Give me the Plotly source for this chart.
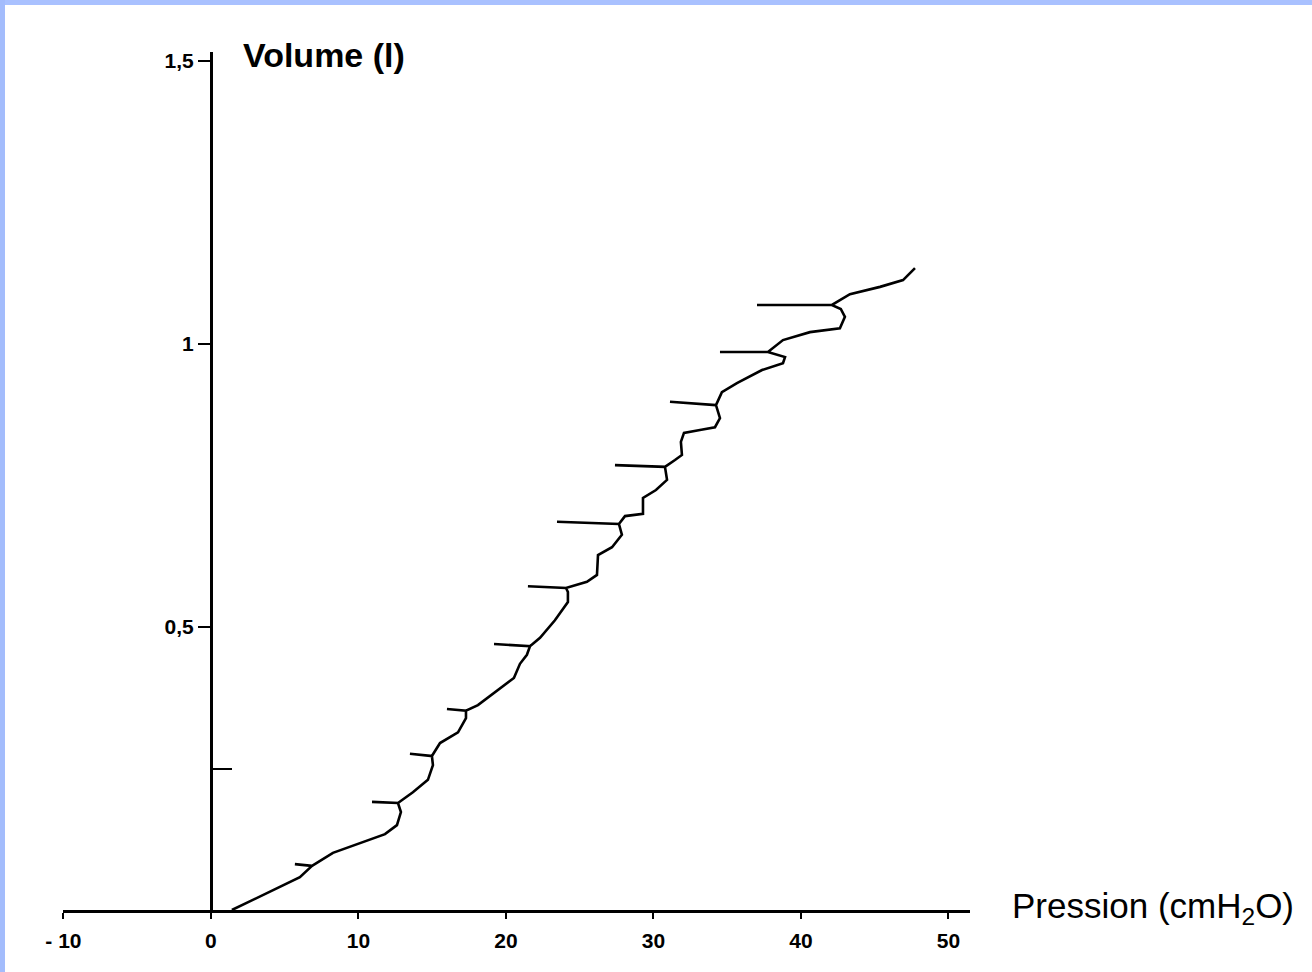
import plotly.graph_objects as go

# Pressure-volume curve (pressure in cmH2O, volume in l)
pressure = [1.42, 4.0, 6.03, 6.85, 5.69, 6.85, 8.27, 10.1, 11.8, 12.61, 12.88, 12.68,
            10.92, 12.68, 13.69, 14.71, 15.05, 14.98, 13.49, 14.98, 15.53, 16.75,
            17.29, 17.29, 16.0, 17.29, 18.1, 19.46, 20.54, 20.95, 21.42, 21.63,
            19.19, 21.63, 22.31, 23.32, 24.2, 24.2, 24.07, 21.49, 24.07, 25.49,
            26.17, 26.24, 27.19, 27.86, 27.66, 23.46, 27.66, 28.07, 29.29, 29.29,
            30.17, 30.92, 30.78, 27.39, 30.78, 31.46, 31.93, 31.86, 32.07, 33.15,
            34.17, 34.51, 34.24, 31.12, 34.24, 34.64, 35.66, 37.36, 38.78, 38.92,
            37.76, 34.51, 37.76, 38.78, 40.61, 42.64, 42.98, 42.7, 42.1, 37.02,
            42.1, 43.32, 45.36, 46.92, 47.73]
volume = [0.0, 0.032, 0.058, 0.078, 0.081, 0.078, 0.101, 0.118, 0.134, 0.150, 0.173, 0.189,
          0.191, 0.189, 0.208, 0.230, 0.256, 0.272, 0.276, 0.272, 0.295, 0.314,
          0.339, 0.352, 0.355, 0.352, 0.362, 0.389, 0.410, 0.435, 0.451, 0.466,
          0.470, 0.466, 0.481, 0.512, 0.544, 0.562, 0.569, 0.572, 0.569, 0.580,
          0.592, 0.627, 0.641, 0.663, 0.682, 0.686, 0.682, 0.696, 0.700, 0.728,
          0.742, 0.760, 0.783, 0.786, 0.783, 0.795, 0.804, 0.827, 0.843, 0.848,
          0.853, 0.869, 0.892, 0.898, 0.892, 0.915, 0.931, 0.954, 0.966, 0.977,
          0.986, 0.986, 0.986, 1.007, 1.021, 1.028, 1.048, 1.062, 1.069, 1.069,
          1.069, 1.088, 1.101, 1.113, 1.134]

x_ticks = [-10, 0, 10, 20, 30, 40, 50]
x_tick_labels = ["- 10", "0", "10", "20", "30", "40", "50"]
y_ticks = [0.5, 1, 1.5]
y_tick_labels = ["0,5", "1", "1,5"]
y_minor_ticks = [0.25]

x_range = [-10.03, 51.46]
y_range = [0, 1.516]

W, H = 1312, 972
ML, MR, MT, MB = 63, 342, 52, 62
PW, PH = W - ML - MR, H - MT - MB


def px_x(p):
    return (p - ML) / PW


def px_y(p):
    return (H - MB - p) / PH


fig = go.Figure()
fig.add_trace(go.Scatter(x=pressure, y=volume, mode="lines",
                         line=dict(color="black", width=2.6),
                         hoverinfo="skip", showlegend=False))

y_axis_pos = (0 - x_range[0]) / (x_range[1] - x_range[0])
tick_font = dict(size=21, family="Liberation Sans, Arial", weight="bold", color="black")

fig.update_layout(
    width=W, height=H, autosize=False,
    margin=dict(l=ML, r=MR, t=MT, b=MB, pad=0),
    paper_bgcolor="white", plot_bgcolor="white",
    font=dict(family="Liberation Sans, Arial, sans-serif", color="black"),
    xaxis=dict(range=x_range, showgrid=False, zeroline=False,
               showline=True, linecolor="black", linewidth=3,
               ticks="outside", ticklen=6, tickwidth=2, tickcolor="black",
               tickvals=x_ticks, ticktext=x_tick_labels, ticklabelstandoff=4,
               tickfont=tick_font),
    yaxis=dict(range=y_range, showgrid=False, zeroline=False,
               anchor="free", position=y_axis_pos,
               showline=True, linecolor="black", linewidth=3,
               ticks="outside", ticklen=12, tickwidth=2, tickcolor="black",
               tickvals=y_ticks, ticktext=y_tick_labels,
               tickfont=tick_font,
               minor=dict(tickvals=y_minor_ticks, ticks="inside", ticklen=19,
                          tickwidth=2, tickcolor="black")),
)

fig.add_annotation(text="Volume (l)", xref="paper", yref="paper",
                   x=px_x(241), y=px_y(55),
                   xanchor="left", yanchor="middle", showarrow=False,
                   font=dict(size=34, family="Liberation Sans, Arial", weight="bold"))
fig.add_annotation(text="Pression (cmH<sub>2</sub>O)", xref="paper", yref="paper",
                   x=px_x(1010), y=px_y(908),
                   xanchor="left", yanchor="middle", showarrow=False,
                   font=dict(size=35, family="Liberation Sans, Arial"))

# light blue frame strips at top and left edge of the page
fig.add_shape(type="rect", xref="paper", yref="paper",
              x0=px_x(0), x1=px_x(W), y0=px_y(5), y1=px_y(0),
              line=dict(width=0), fillcolor="#a9c1ff", layer="above")
fig.add_shape(type="rect", xref="paper", yref="paper",
              x0=px_x(0), x1=px_x(5), y0=px_y(H), y1=px_y(0),
              line=dict(width=0), fillcolor="#a3bcfc", layer="above")

fig.write_html("out.html", config={"displayModeBar": False},
               post_script="document.body.style.margin='0';document.body.style.overflow='hidden';")
